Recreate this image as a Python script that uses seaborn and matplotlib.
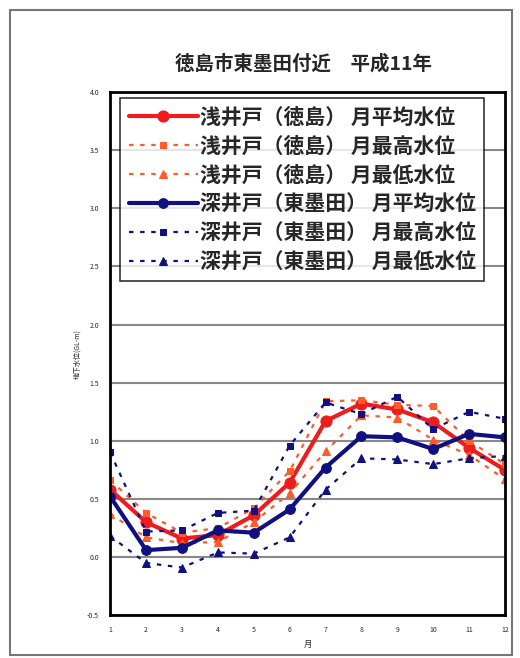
import numpy as np
import pandas as pd
import matplotlib.pyplot as plt
import seaborn as sns
from matplotlib.patches import Rectangle

# 月 (1〜12)
months = list(range(1, 13))

# 浅井戸 (読み取り値, GL-m)
shallow_mean = [0.58, 0.30, 0.16, 0.19, 0.36, 0.64, 1.17, 1.32, 1.27, 1.16, 0.94, 0.75]
shallow_max = [0.66, 0.38, 0.21, 0.25, 0.42, 0.74, 1.34, 1.35, 1.31, 1.30, 1.00, 0.80]
shallow_min = [0.37, 0.17, 0.12, 0.13, 0.30, 0.55, 0.91, 1.22, 1.20, 1.01, 0.88, 0.67]

# 深井戸 (読み取り値, GL-m)
deep_mean = [0.52, 0.06, 0.08, 0.23, 0.21, 0.41, 0.77, 1.04, 1.03, 0.93, 1.06, 1.03]
deep_max = [0.90, 0.22, 0.23, 0.38, 0.40, 0.96, 1.33, 1.23, 1.38, 1.10, 1.25, 1.19]
deep_min = [0.18, -0.05, -0.09, 0.04, 0.03, 0.17, 0.58, 0.85, 0.84, 0.80, 0.85, 0.87]

labels = ['浅井戸（徳島） 月平均水位', '浅井戸（徳島） 月最高水位', '浅井戸（徳島） 月最低水位',
          '深井戸（東墨田） 月平均水位', '深井戸（東墨田） 月最高水位', '深井戸（東墨田） 月最低水位']

sns.set_style('white')
plt.rcParams['font.family'] = ['Noto Sans CJK JP', 'DejaVu Sans']

fig = plt.figure(figsize=(5.2, 6.58), dpi=100)
ax = fig.add_axes([0.212, 0.065, 0.759, 0.795])

red = '#ee1c1c'
orange = '#ff5a2a'
navy = '#101080'
dots = (0, (2, 3))

series = [
    (shallow_mean, red, '-', 'o', 3.0, 8),
    (shallow_max, orange, dots, 's', 1.6, 5),
    (shallow_min, orange, dots, '^', 1.6, 6),
    (deep_mean, navy, '-', 'o', 3.0, 7),
    (deep_max, navy, dots, 's', 1.6, 5),
    (deep_min, navy, dots, '^', 1.6, 6),
]

for (vals, col, ls, mk, lw, ms), lab in zip(series, labels):
    sns.lineplot(x=months, y=vals, ax=ax, color=col, linestyle=ls, marker=mk,
                 linewidth=lw, markersize=ms, markeredgecolor=col, label=lab)

ax.set_xlim(1, 12)
ax.set_ylim(-0.5, 4.0)
ax.set_xticks(months)
ax.set_yticks(np.arange(-0.5, 4.01, 0.5))
ax.set_yticklabels([f'{v:.1f}' for v in np.arange(-0.5, 4.01, 0.5)])
ax.tick_params(axis='both', labelsize=5, length=0, pad=8)
ax.yaxis.grid(True, color='#888888', linewidth=1.5)
ax.xaxis.grid(False)
for s in ax.spines.values():
    s.set_color('black')
    s.set_linewidth(2)

ax.set_xlabel('月', fontsize=6)
ax.set_ylabel('地下水位(GL-m)', fontsize=5)
ax.set_title('徳島市東墨田付近　平成11年', fontsize=14, fontweight='bold', pad=16, x=0.49)

leg = ax.legend(loc='upper left', bbox_to_anchor=(0.01, 1.0), borderaxespad=0.3,
                handlelength=3.3, prop={'size': 15, 'weight': 'bold'}, frameon=True,
                fancybox=False, labelspacing=0.38, borderpad=0.4, handletextpad=0.1)
leg.get_frame().set_edgecolor('black')
leg.get_frame().set_linewidth(1.2)

fig.add_artist(Rectangle((0.02, 0.005), 0.965, 0.98, transform=fig.transFigure,
                         fill=False, edgecolor='#777777', linewidth=1.5))

fig.savefig('out.png', dpi=100)
